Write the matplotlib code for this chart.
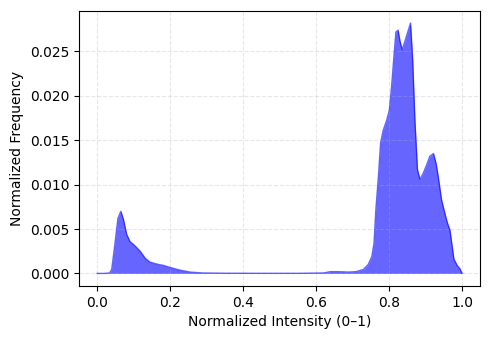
import matplotlib
matplotlib.use("Agg")
import matplotlib.pyplot as plt

intensity = [0.0, 0.02, 0.034, 0.040, 0.049, 0.057, 0.065, 0.072, 0.081, 0.090, 0.104,
             0.118, 0.132, 0.145, 0.164, 0.182, 0.200, 0.227, 0.255, 0.29, 0.35,
             0.45, 0.55, 0.62, 0.64, 0.66, 0.69, 0.71, 0.730, 0.743, 0.753, 0.759,
             0.764, 0.771, 0.777, 0.784, 0.794, 0.801, 0.807, 0.814, 0.819, 0.825,
             0.830, 0.836, 0.844, 0.853, 0.859, 0.865, 0.871, 0.878, 0.885, 0.894,
             0.903, 0.912, 0.922, 0.929, 0.935, 0.944, 0.953, 0.960, 0.967, 0.972,
             0.978, 0.987, 0.995, 1.0]
frequency = [0.0, 0.0, 0.00005, 0.00045, 0.0034, 0.0062, 0.0070, 0.0061, 0.0044, 0.0036, 0.0031,
             0.0025, 0.0017, 0.00127, 0.00105, 0.0009, 0.00067, 0.00037, 0.00015, 0.00005, 0.00002,
             0.00001, 0.00001, 0.00005, 0.0002, 0.0002, 0.00015, 0.0002, 0.00045, 0.0010, 0.0019, 0.0034,
             0.0072, 0.0109, 0.0147, 0.0161, 0.0173, 0.0184, 0.0210, 0.0247, 0.0272, 0.0274,
             0.0262, 0.0252, 0.0262, 0.0274, 0.0282, 0.0240, 0.0173, 0.0117, 0.0106, 0.0113,
             0.0122, 0.0132, 0.0135, 0.0124, 0.0109, 0.0083, 0.0068, 0.0057, 0.0049, 0.0034,
             0.0016, 0.0009, 0.0005, 0.0]

fig, ax = plt.subplots(figsize=(4.9, 3.4), dpi=100)
fig.subplots_adjust(left=0.161, right=0.980, top=0.969, bottom=0.159)
ax.fill_between(intensity, frequency, color='blue', alpha=0.6, linewidth=0)
ax.plot(intensity, frequency, color='blue', alpha=0.6, linewidth=1)
ax.set_xlabel('Normalized Intensity (0–1)')
ax.set_ylabel('Normalized Frequency')
ax.grid(True, linestyle='--', alpha=0.3)
fig.savefig('out.png', dpi=100)
